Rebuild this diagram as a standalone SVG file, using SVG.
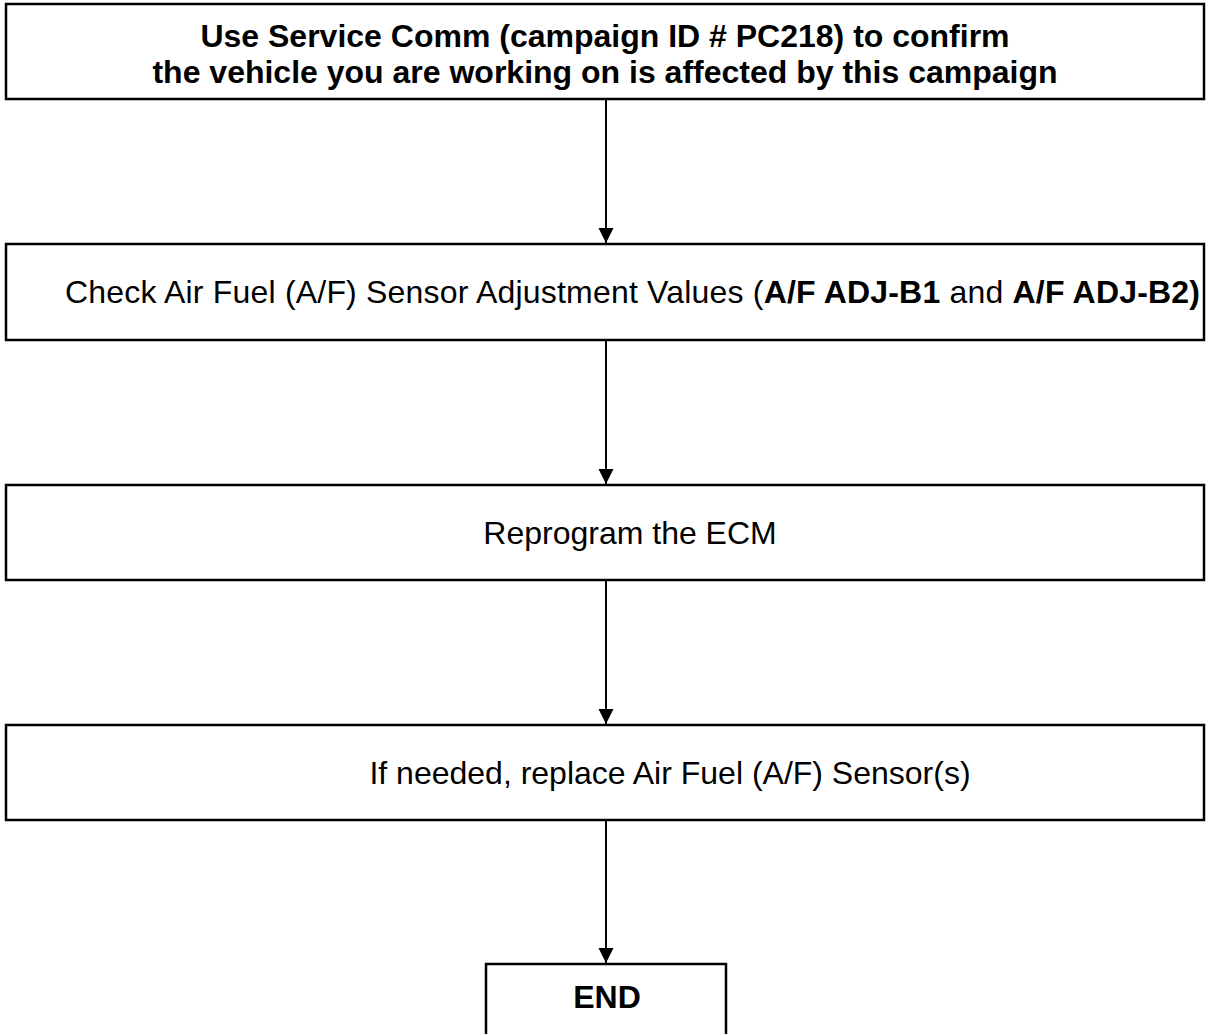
<svg xmlns="http://www.w3.org/2000/svg" width="1206" height="1034" viewBox="0 0 1206 1034">
<style>
.box{fill:#fff;stroke:#000;stroke-width:2.5}
.t{font-family:"Liberation Sans",Arial,sans-serif;font-size:32px;fill:#000}
.b{font-weight:bold}
.c{stroke:#000;stroke-width:2;fill:none}
</style>
<defs>
<marker id="ah" markerWidth="16" markerHeight="16" refX="15" refY="7.5" orient="auto" markerUnits="userSpaceOnUse">
<path d="M0,0 L15,7.5 L0,15 Z" fill="#000"/>
</marker>
</defs>
<rect width="1206" height="1034" fill="#fff"/>
<g id="n1">
<rect class="box" x="6" y="4" width="1198" height="95"/>
<text class="t b" x="605" y="47" text-anchor="middle">Use Service Comm (campaign ID # PC218) to confirm</text>
<text class="t b" x="605" y="83" text-anchor="middle">the vehicle you are working on is affected by this campaign</text>
</g>
<g id="n2">
<rect class="box" x="6" y="244" width="1198" height="96"/>
<text class="t" x="65" y="303" textLength="1135" lengthAdjust="spacing">Check Air Fuel (A/F) Sensor Adjustment Values (<tspan class="b">A/F ADJ-B1</tspan> and <tspan class="b">A/F ADJ-B2)</tspan></text>
</g>
<g id="n3">
<rect class="box" x="6" y="485" width="1198" height="95"/>
<text class="t" x="630" y="544" text-anchor="middle">Reprogram the ECM</text>
</g>
<g id="n4">
<rect class="box" x="6" y="725" width="1198" height="95"/>
<text class="t" x="670" y="784" text-anchor="middle">If needed, replace Air Fuel (A/F) Sensor(s)</text>
</g>
<g id="n5">
<rect class="box" x="486" y="964" width="240" height="80"/>
<text class="t b" x="607" y="1008" text-anchor="middle">END</text>
</g>
<g id="connectors">
<line class="c" x1="606" y1="99" x2="606" y2="243" marker-end="url(#ah)"/>
<line class="c" x1="606" y1="340" x2="606" y2="484" marker-end="url(#ah)"/>
<line class="c" x1="606" y1="580" x2="606" y2="724" marker-end="url(#ah)"/>
<line class="c" x1="606" y1="820" x2="606" y2="963" marker-end="url(#ah)"/>
</g>
</svg>
